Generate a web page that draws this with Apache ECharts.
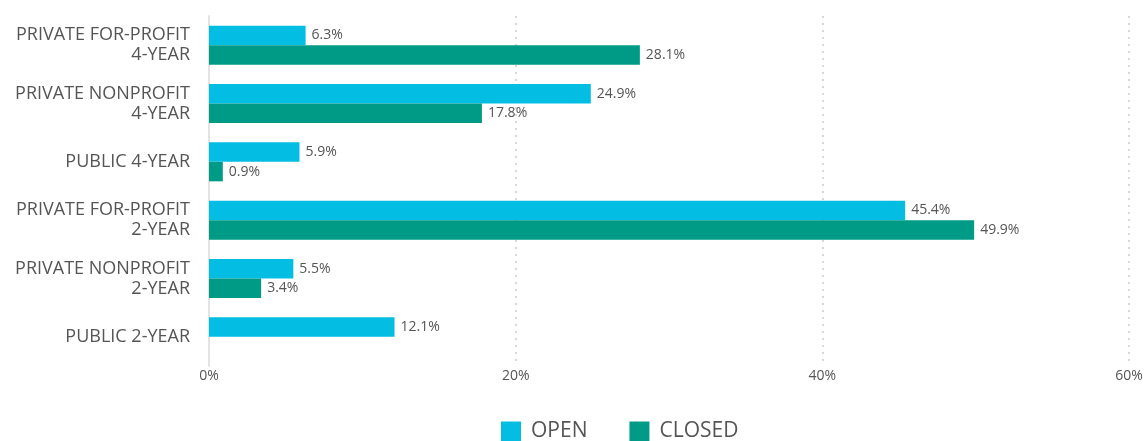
<!DOCTYPE html>
<html>
<head>
<meta charset="utf-8">
<script src="https://cdn.jsdelivr.net/npm/echarts@6/dist/echarts.min.js"></script>
<style>
html,body{margin:0;padding:0;background:#fff;}
#main{width:1147px;height:441px;}
</style>
</head>
<body>
<div id="main"></div>
<script>
const categories = [
  "PRIVATE FOR-PROFIT\n4-YEAR",
  "PRIVATE NONPROFIT\n4-YEAR",
  "PUBLIC 4-YEAR",
  "PRIVATE FOR-PROFIT\n2-YEAR",
  "PRIVATE NONPROFIT\n2-YEAR",
  "PUBLIC 2-YEAR"
];
const openValues = [6.3, 24.9, 5.9, 45.4, 5.5, 12.1];
const closedValues = [28.1, 17.8, 0.9, 49.9, 3.4, null];
const xTicks = [0, 20, 40, 60];
const seriesNames = ["OPEN", "CLOSED"];

const FONT = "'Open Sans', Lato, sans-serif";
const TXT = "#555555";

const chart = echarts.init(document.getElementById('main'), null, {renderer: 'canvas'});
const labelCfg = {
  show: true,
  position: 'right',
  distance: 6,
  color: TXT,
  fontFamily: FONT,
  fontSize: 14,
  formatter: p => p.value.toFixed(1) + '%'
};
chart.setOption({
  animation: false,
  textStyle: {fontFamily: FONT},
  grid: {left: 209, right: 18, top: 16, bottom: 75, containLabel: false},
  legend: {
    left: 496,
    top: 416,
    itemWidth: 20,
    itemHeight: 20,
    itemGap: 42,
    icon: 'rect',
    textStyle: {color: TXT, fontSize: 21, fontFamily: FONT, padding: [0, 0, 0, 5]},
    data: seriesNames
  },
  xAxis: {
    type: 'value',
    min: xTicks[0],
    max: xTicks[xTicks.length - 1],
    interval: 20,
    axisLine: {show: false},
    axisTick: {show: false},
    axisLabel: {color: TXT, fontSize: 14, fontFamily: FONT, margin: 3, formatter: v => v + '%'},
    splitLine: {show: true, lineStyle: {color: '#d9d9d9', type: [2, 5], width: 2}}
  },
  yAxis: {
    type: 'category',
    data: categories,
    inverse: true,
    axisLine: {show: true, lineStyle: {color: '#e3e3e3', width: 2}},
    axisTick: {show: false},
    axisLabel: {color: TXT, fontSize: 18, fontFamily: FONT, margin: 19, lineHeight: 20, align: 'right'}
  },
  series: [
    {
      name: seriesNames[0],
      type: 'bar',
      data: openValues,
      barWidth: 19.5,
      barGap: '0%',
      itemStyle: {color: '#03bde3'},
      label: labelCfg
    },
    {
      name: seriesNames[1],
      type: 'bar',
      data: closedValues,
      barWidth: 19.5,
      barGap: '0%',
      itemStyle: {color: '#009b86'},
      label: labelCfg
    }
  ]
});
</script>
</body>
</html>
